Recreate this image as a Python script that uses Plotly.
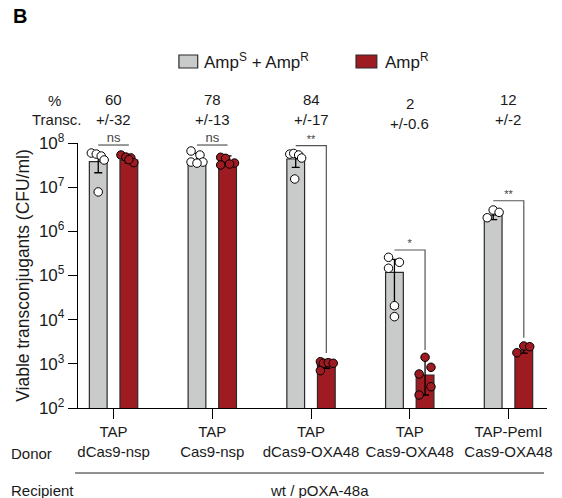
import numpy as np
import plotly.graph_objects as go

# ---------------- data ----------------
donor_top = ["TAP", "TAP", "TAP", "TAP", "TAP-PemI"]
donor_bottom = ["dCas9-nsp", "Cas9-nsp", "dCas9-OXA48", "Cas9-OXA48", "Cas9-OXA48"]
pct_transc = ["60", "78", "84", "2", "12"]
pct_err = ["+/-32", "+/-13", "+/-17", "+/-0.6", "+/-2"]

# Amp^S + Amp^R (grey) bars
gray_mean = [3.77e7, 3.4e7, 4.34e7, 1.18e5, 2.34e6]
gray_err_up = [1.65e7, 2.4e7, 1.5e7, 1.15e5, 0.5e6]
gray_err_dn = [1.65e7, 0.0, 1.53e7, 1.0e5, 0.5e6]
gray_points = [
    [5.93e7, 5.62e7, 5.07e7, 4.12e7, 7.8e6],
    [6.58e7, 5.35e7, 3.7e7, 3.7e7, 3.5e7],
    [5.6e7, 5.8e7, 5.35e7, 4.57e7, 1.53e7],
    [2.58e5, 1.99e5, 1.46e5, 2.07e4, 1.17e4],
    [2.03e6, 3.04e6, 2.69e6],
]
gray_jitter = [
    [-0.07, -0.02, 0.03, 0.06, 0.0],
    [-0.06, 0.03, 0.06, -0.06, 0.0],
    [-0.06, -0.02, 0.03, 0.06, -0.01],
    [-0.06, 0.05, -0.06, 0.0, 0.0],
    [-0.06, 0.0, 0.06],
]

# Amp^R (red) bars
red_mean = [4.1e7, 3.6e7, 1030, 558, 2056]
red_err_up = [0.6e7, 1.5e7, 235, 890, 300]
red_err_dn = [0.6e7, 0.0, 235, 361, 300]
red_points = [
    [5.35e7, 4.8e7, 4.6e7, 3.6e7, 4.2e7],
    [4.74e7, 4.5e7, 3.52e7, 3.34e7, 3.18e7],
    [1117, 1028, 1061, 1028, 700],
    [1406, 834, 589, 303, 197],
    [1786, 2535, 2443],
]
red_jitter = [
    [-0.08, -0.03, 0.02, 0.05, 0.0],
    [-0.07, -0.02, 0.07, 0.02, -0.07],
    [-0.06, -0.03, 0.02, 0.07, -0.06],
    [0.0, 0.06, -0.06, 0.06, -0.06],
    [-0.07, 0.0, 0.06],
]

# significance brackets: label, bracket level, end of right leg (None = no leg)
sig_labels = ["ns", "ns", "**", "*", "**"]
sig_level = [9.0e7, 9.0e7, 8.7e7, 3.78e5, 4.93e6]
sig_leg_end = [None, None, 1760, 2050, 3900]

legend_labels = ["Amp<sup>S</sup> + Amp<sup>R</sup>", "Amp<sup>R</sup>"]
y_tick_vals = [1e2, 1e3, 1e4, 1e5, 1e6, 1e7, 1e8]
y_tick_text = ["10<sup>%d</sup>" % int(np.log10(v)) for v in y_tick_vals]

# ---------------- style ----------------
GRAY = "#c9caca"
RED = "#9e1b22"
FONT = "Liberation Sans, Arial, sans-serif"
W, H = 562, 498
ML, MR, MT, MB = 78, 10, 143, 90
BARGAP = 0.38
BARGROUPGAP = 0.42
half_slot = (1 - BARGAP) / 4.0

x_idx = np.arange(len(donor_top))
tick_text = ["%s<br>%s" % (a, b) for a, b in zip(donor_top, donor_bottom)]

fig = go.Figure()
fig.add_trace(go.Bar(
    x=x_idx, y=gray_mean, name=legend_labels[0],
    marker=dict(color=GRAY, line=dict(color="#2a2a2a", width=1.2)),
    error_y=dict(type="data", symmetric=False, array=gray_err_up, arrayminus=gray_err_dn,
                 color="black", thickness=1.3, width=4),
    showlegend=False,
))
fig.add_trace(go.Bar(
    x=x_idx, y=red_mean, name=legend_labels[1],
    marker=dict(color=RED, line=dict(color="#2a2a2a", width=1.2)),
    error_y=dict(type="data", symmetric=False, array=red_err_up, arrayminus=red_err_dn,
                 color="black", thickness=1.3, width=4),
    showlegend=False,
))

# individual points
gx, gy, rx, ry = [], [], [], []
for i in x_idx:
    for v, j in zip(gray_points[i], gray_jitter[i]):
        gx.append(i - half_slot + j)
        gy.append(v)
    for v, j in zip(red_points[i], red_jitter[i]):
        rx.append(i + half_slot + j)
        ry.append(v)
fig.add_trace(go.Scatter(x=gx, y=gy, mode="markers", showlegend=False, cliponaxis=False,
                         marker=dict(size=8.5, color="white", line=dict(color="black", width=1))))
fig.add_trace(go.Scatter(x=rx, y=ry, mode="markers", showlegend=False, cliponaxis=False,
                         marker=dict(size=8.5, color=RED, line=dict(color="black", width=1))))

# brackets
for i in x_idx:
    xl, xr = i - half_slot, i + half_slot
    bx, by = [xl, xr], [sig_level[i], sig_level[i]]
    if sig_leg_end[i] is not None:
        bx.append(xr)
        by.append(sig_leg_end[i])
    fig.add_trace(go.Scatter(x=bx, y=by, mode="lines", showlegend=False, cliponaxis=False,
                             line=dict(color="#555555", width=1.2), hoverinfo="skip"))
    is_ns = sig_labels[i] == "ns"
    fig.add_trace(go.Scatter(x=[i], y=[sig_level[i]], mode="text", text=[sig_labels[i]],
                             textposition="top center", showlegend=False, cliponaxis=False,
                             textfont=dict(family=FONT, size=13 if is_ns else 11, color="#444444")))

pw = W - ML - MR
ph = H - MT - MB
def px(x):
    return (x - ML) / pw
def py(y):
    return (H - MB - y) / ph

ann = []
# % Transc. row
ann.append(dict(x=px(54), y=py(100), text="%"))
ann.append(dict(x=px(56), y=py(119), text="Transc."))
for i in x_idx:
    shift = -4 if i == 3 else 0
    ann.append(dict(x=i, xref="x", y=py(99), text=pct_transc[i], yshift=shift))
    ann.append(dict(x=i, xref="x", y=py(119), text=pct_err[i], yshift=shift))
# bottom labels
ann.append(dict(x=px(8), y=py(453), text="Donor", xanchor="left"))
ann.append(dict(x=px(8), y=py(490), text="Recipient", xanchor="left"))
ann.append(dict(x=px(322), y=py(490), text="wt / pOXA-48a"))
# legend texts
ann.append(dict(x=px(203), y=py(61), text=legend_labels[0], xanchor="left",
                font=dict(family=FONT, size=17, color="#1a1a1a")))
ann.append(dict(x=px(386), y=py(61), text=legend_labels[1], xanchor="left",
                font=dict(family=FONT, size=17, color="#1a1a1a")))
# panel letter
ann.append(dict(x=px(10), y=py(16), text="<b>B</b>", xanchor="left",
                font=dict(family=FONT, size=20, color="black")))

annotations = []
for a in ann:
    d = dict(xref="paper", yref="paper", showarrow=False, xanchor="center", yanchor="middle",
             font=dict(family=FONT, size=15, color="#1a1a1a"))
    d.update(a)
    annotations.append(d)

shapes = [
    dict(type="rect", xref="paper", yref="paper", x0=px(180), x1=px(199), y0=py(55), y1=py(68),
         fillcolor=GRAY, line=dict(color="#2a2a2a", width=1.2)),
    dict(type="rect", xref="paper", yref="paper", x0=px(359), x1=px(380), y0=py(55), y1=py(68),
         fillcolor=RED, line=dict(color="#2a2a2a", width=1.2)),
    dict(type="line", xref="paper", yref="paper", x0=px(75), x1=px(549), y0=py(473), y1=py(473),
         line=dict(color="#222222", width=1.2)),
]

fig.update_layout(
    width=W, height=H,
    margin=dict(l=ML, r=MR, t=MT, b=MB),
    paper_bgcolor="white", plot_bgcolor="white",
    barmode="group", bargap=BARGAP, bargroupgap=BARGROUPGAP,
    font=dict(family=FONT, size=15, color="#1a1a1a"),
    annotations=annotations, shapes=shapes,
    xaxis=dict(range=[-0.36, 4.39], tickmode="array", tickvals=list(x_idx), ticktext=tick_text,
               showline=True, linecolor="black", linewidth=1.3, ticks="outside", ticklen=10,
               tickwidth=1.3, tickcolor="black", showgrid=False, zeroline=False,
               tickfont=dict(family=FONT, size=15, color="#1a1a1a")),
    yaxis=dict(type="log", range=[2, 8], tickmode="array", tickvals=y_tick_vals, ticktext=y_tick_text,
               showline=True, linecolor="black", linewidth=1.3, ticks="outside", ticklen=9,
               tickwidth=1.3, tickcolor="black", showgrid=False, zeroline=False,
               tickfont=dict(family=FONT, size=17, color="#1a1a1a"),
               title=dict(text="Viable transconjugants (CFU/ml)", standoff=4,
                          font=dict(family=FONT, size=17.5, color="#1a1a1a"))),
)

fig.write_html("out.html", config={"displayModeBar": False},
               post_script="document.body.style.margin='0';document.body.style.padding='0';")
